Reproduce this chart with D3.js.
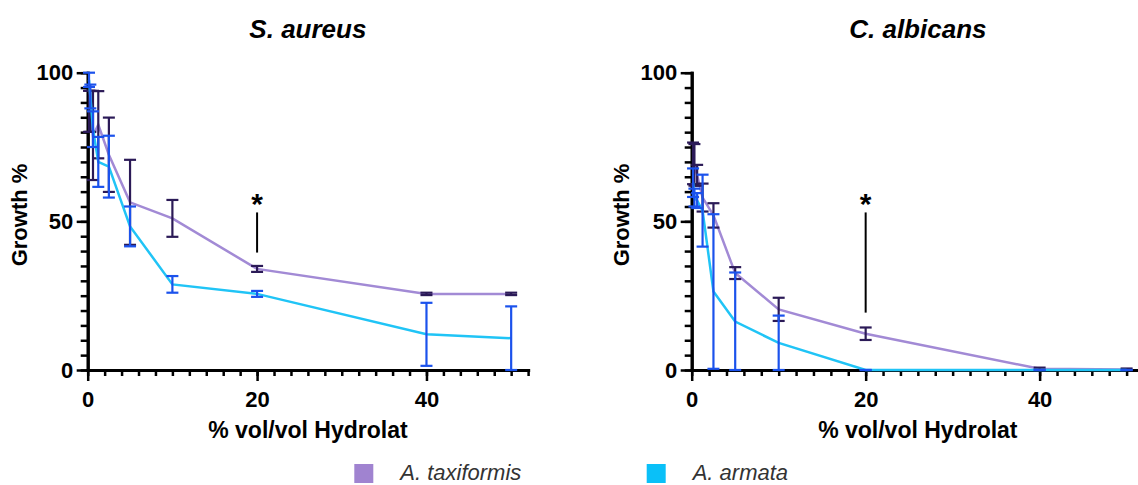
<!DOCTYPE html>
<html>
<head>
<meta charset="utf-8">
<script src="https://cdnjs.cloudflare.com/ajax/libs/d3/7.8.5/d3.min.js"></script>
<style>
body { margin: 0; background: #fff; }
svg { display: block; font-family: "Liberation Sans", Arial, sans-serif; }
</style>
</head>
<body>
<svg id="chart" width="1138" height="485"></svg>
<script>
// % vol/vol hydrolat concentrations
const concentrations = [0.156, 0.3125, 0.625, 1.25, 2.5, 5, 10, 20, 40, 50];

// S. aureus
const aureusTaxiMean = [87, 87, 78.9, 82.5, 72.4, 56.4, 51, 34, 25.6, 25.6];
const aureusTaxiSD   = [6.9, 6.9, 15, 11.3, 12.5, 14.3, 6.2, 1, 0.4, 0.4];
const aureusArmMean  = [97.6, 92, 81, 70, 68.4, 48.3, 28.8, 25.6, 12.0, 10.7];
const aureusArmSD    = [2.4, 4, 6, 8.4, 10.4, 6.7, 2.8, 1, 10.6, 10.7];

// C. albicans
const albicansTaxiMean = [69.5, 69, 65.5, 58, 52, 32.6, 20.4, 12.2, 0.4, 0.2];
const albicansTaxiSD   = [7, 7, 3.5, 4.7, 4.1, 2, 3.9, 2.1, 0.4, 0.3];
const albicansArmMean  = [63, 58, 57, 53.6, 26.4, 16.3, 9.1, 0, 0, 0];
const albicansArmSD    = [4.8, 3, 2.5, 12.1, 26, 16.5, 9.2, 0, 0, 0];

// significance markers: [x, from, to]
const aureusSig = [20, 39.5, 53];
const albicansSig = [20, 19.3, 53];

const xMajorTicks = [0, 20, 40];
const yMajorTicks = [0, 50, 100];
const seriesNames = ['A. taxiformis', 'A. armata'];

const lineColors = ['#a28ad5', '#20c4f6'];
const barColors = ['#2b1a57', '#1b52ec'];

const svg = d3.select('#chart');

const panels = [
    { title: 'S. aureus', x0: 87.7, x1: 528.1, labelX: 26.7,
      taxi: [aureusTaxiMean, aureusTaxiSD], arm: [aureusArmMean, aureusArmSD], sig: aureusSig },
    { title: 'C. albicans', x0: 691.7, x1: 1144, labelX: 629,
      taxi: [albicansTaxiMean, albicansTaxiSD], arm: [albicansArmMean, albicansArmSD], sig: albicansSig }
];

function drawPanel(p) {
    const x = d3.scaleLinear().domain([0, 52]).range([p.x0, p.x1]);
    const y = d3.scaleLinear().domain([0, 100]).range([370, 72.7]);
    const g = svg.append('g');

    // minor ticks
    g.append('g').attr('transform', 'translate(0,370)')
        .call(d3.axisBottom(x).tickValues(d3.range(0, 53, 2)).tickSize(6).tickSizeOuter(0).tickFormat(''));
    g.append('g').attr('transform', 'translate(' + p.x0 + ',0)')
        .call(d3.axisLeft(y).tickValues(d3.range(0, 101, 5)).tickSize(7).tickSizeOuter(0).tickFormat(''));
    // major ticks + labels
    g.append('g').attr('class', 'major').attr('transform', 'translate(0,370)')
        .call(d3.axisBottom(x).tickValues(xMajorTicks).tickSize(11).tickPadding(10).tickSizeOuter(0));
    g.append('g').attr('class', 'major').attr('transform', 'translate(' + p.x0 + ',0)')
        .call(d3.axisLeft(y).tickValues(yMajorTicks).tickSize(11).tickPadding(3.5).tickSizeOuter(0));

    g.selectAll('.domain').attr('stroke', '#000').attr('stroke-width', 3).attr('stroke-linecap', 'square');
    g.selectAll('.tick line').attr('stroke', '#000').attr('stroke-width', 2.5);
    g.selectAll('.major text').attr('fill', '#000').style('font-size', '22px').style('font-weight', 'bold');

    const line = d3.line().x((d, i) => x(concentrations[i])).y(d => y(d));

    function errorBars(mean, sd, color) {
        const eb = g.append('g').attr('stroke', color).attr('stroke-width', 2.2).attr('fill', 'none');
        mean.forEach((m, i) => {
            const cx = x(concentrations[i]);
            const top = y(Math.min(100, m + sd[i]));
            const bot = y(Math.max(0, m - sd[i]));
            eb.append('line').attr('x1', cx).attr('x2', cx).attr('y1', top).attr('y2', bot);
            eb.append('line').attr('x1', cx - 6).attr('x2', cx + 6).attr('y1', top).attr('y2', top);
            eb.append('line').attr('x1', cx - 6).attr('x2', cx + 6).attr('y1', bot).attr('y2', bot);
        });
    }

    g.append('path').datum(p.taxi[0]).attr('d', line)
        .attr('fill', 'none').attr('stroke', lineColors[0]).attr('stroke-width', 2.5);
    errorBars(p.taxi[0], p.taxi[1], barColors[0]);
    g.append('path').datum(p.arm[0]).attr('d', line)
        .attr('fill', 'none').attr('stroke', lineColors[1]).attr('stroke-width', 2.5);
    errorBars(p.arm[0], p.arm[1], barColors[1]);

    // significance
    g.append('line')
        .attr('x1', x(p.sig[0])).attr('x2', x(p.sig[0]))
        .attr('y1', y(p.sig[2])).attr('y2', y(p.sig[1]))
        .attr('stroke', '#000').attr('stroke-width', 2);
    g.append('text').attr('x', x(p.sig[0])).attr('y', y(p.sig[2]) + 1.5)
        .attr('text-anchor', 'middle').style('font-size', '30px').style('font-weight', 'bold')
        .text('*');

    const cx = (p.x0 + p.x1) / 2;
    g.append('text').attr('x', cx).attr('y', 38).attr('text-anchor', 'middle')
        .style('font-size', '26px').style('font-weight', 'bold').style('font-style', 'italic')
        .text(p.title);
    g.append('text').attr('x', cx).attr('y', 438).attr('text-anchor', 'middle')
        .style('font-size', '23px').style('font-weight', 'bold')
        .text('% vol/vol Hydrolat');
    g.append('text').attr('transform', 'translate(' + p.labelX + ',215) rotate(-90)')
        .attr('text-anchor', 'middle')
        .style('font-size', '22px').style('font-weight', 'bold')
        .text('Growth %');
}

panels.forEach(drawPanel);

// legend
const legendX = [354.3, 646.7];
const legendColors = ['#a083d0', '#0ac0f8'];
seriesNames.forEach((name, i) => {
    svg.append('rect').attr('x', legendX[i]).attr('y', 464).attr('width', 19).attr('height', 19)
        .attr('fill', legendColors[i]);
    svg.append('text').attr('x', legendX[i] + 46).attr('y', 480)
        .style('font-size', '22px').style('font-style', 'italic').attr('fill', '#333')
        .text(name);
});
</script>
</body>
</html>
